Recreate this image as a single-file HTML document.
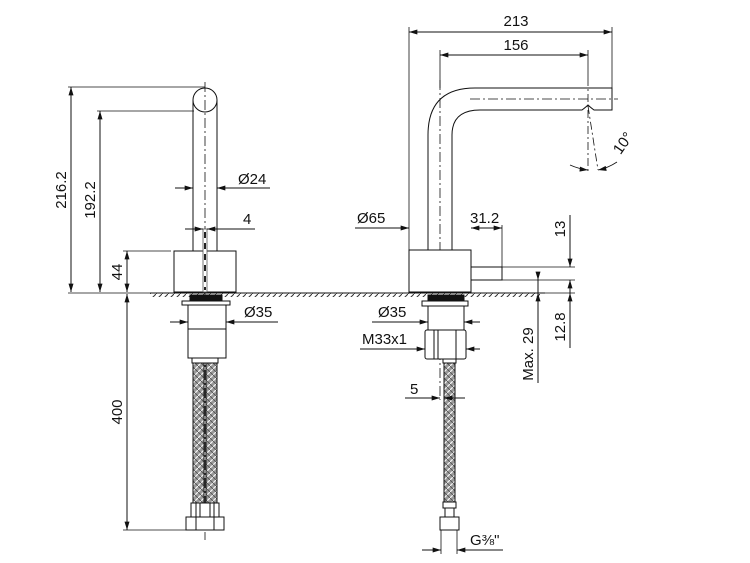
<!DOCTYPE html>
<html><head><meta charset="utf-8"><style>
html,body{margin:0;padding:0;background:#fff;}
svg{display:block;}
text{font-family:"Liberation Sans",Arial,sans-serif;font-size:15px;fill:#111;}
</style></head><body>
<svg width="750" height="563" viewBox="0 0 750 563" xmlns="http://www.w3.org/2000/svg">
<defs>
<marker id="a" viewBox="0 0 10 6" refX="10" refY="3" markerWidth="9" markerHeight="5" orient="auto-start-reverse" markerUnits="userSpaceOnUse"><path d="M0,0 L10,3 L0,6 z" fill="#111"/></marker>
<pattern id="hatch" width="6" height="6" patternUnits="userSpaceOnUse"><path d="M0,6 L6,0" stroke="#333" stroke-width="1"/></pattern>
<pattern id="braid" width="6" height="6" patternUnits="userSpaceOnUse"><rect width="6" height="6" fill="#999"/><path d="M0,6 L6,0 M-1,1 L1,-1 M5,7 L7,5" stroke="#f4f4f4" stroke-width="1.2"/><path d="M0,0 L6,6" stroke="#444" stroke-width="0.7"/></pattern>
</defs>
<g stroke="#111" stroke-width="1" fill="none">
<line x1="150" y1="293" x2="545" y2="293"/>
<rect x="150" y="293" width="390" height="4" fill="url(#hatch)" stroke="none"/>

<!-- LEFT VIEW -->
<circle cx="205" cy="100" r="12" fill="#fff"/>
<line x1="193" y1="100" x2="193" y2="251"/>
<line x1="217" y1="100" x2="217" y2="251"/>
<rect x="174" y="251" width="62" height="41" fill="#fff"/>
<line x1="205" y1="82" x2="205" y2="540" stroke-dasharray="10,3,2,3" stroke-width="0.8"/>
<rect x="203" y="229" width="4" height="63" fill="#fff" stroke="#555" stroke-width="0.8"/>
<line x1="205" y1="232" x2="205" y2="290" stroke="#222" stroke-width="2" stroke-dasharray="6,5"/>
<rect x="190" y="295" width="32" height="6" fill="#111"/>
<rect x="182" y="301" width="48" height="4" fill="#fff"/>
<rect x="188" y="305" width="38" height="53" fill="#fff"/>
<line x1="188" y1="329" x2="226" y2="329"/>
<rect x="192" y="358" width="26" height="5" fill="#fff"/>
<rect x="193" y="363" width="11" height="140" fill="url(#braid)"/>
<rect x="206" y="363" width="11" height="140" fill="url(#braid)"/>
<rect x="191" y="503" width="28" height="14" fill="#fff"/>
<line x1="196" y1="503" x2="196" y2="517"/><line x1="200" y1="503" x2="200" y2="517"/><line x1="210" y1="503" x2="210" y2="517"/><line x1="214" y1="503" x2="214" y2="517"/>
<rect x="186" y="517" width="38" height="13" fill="#fff"/>
<line x1="196" y1="517" x2="196" y2="530"/><line x1="214" y1="517" x2="214" y2="530"/>

<line x1="68" y1="87" x2="205" y2="87" stroke-width="0.8"/>
<line x1="97" y1="111" x2="194" y2="111" stroke-width="0.8"/>
<line x1="123" y1="251" x2="171" y2="251" stroke-width="0.8"/>
<line x1="68" y1="293" x2="150" y2="293" stroke-width="0.8"/>
<line x1="123" y1="530" x2="190" y2="530" stroke-width="0.8"/>
<line x1="71" y1="87" x2="71" y2="292" marker-start="url(#a)" marker-end="url(#a)"/>
<line x1="100" y1="111" x2="100" y2="292" marker-start="url(#a)" marker-end="url(#a)"/>
<line x1="127" y1="251" x2="127" y2="292" marker-start="url(#a)" marker-end="url(#a)"/>
<line x1="127" y1="294" x2="127" y2="530" marker-start="url(#a)" marker-end="url(#a)"/>
<line x1="175" y1="188" x2="193" y2="188" marker-end="url(#a)"/>
<line x1="270" y1="188" x2="217" y2="188" marker-end="url(#a)"/>
<line x1="185" y1="229" x2="203" y2="229" marker-end="url(#a)"/>
<line x1="255" y1="229" x2="207" y2="229" marker-end="url(#a)"/>
<line x1="170" y1="322" x2="188" y2="322" marker-end="url(#a)"/>
<line x1="278" y1="322" x2="226" y2="322" marker-end="url(#a)"/>

<!-- RIGHT VIEW -->
<path d="M428,250 L428,135 Q428,88 475,88 L612,88 L612,110 L594,110 Q590,107 588,105 Q586,107 582,110 L480,110 Q452,110 452,135 L452,250" fill="#fff"/>
<line x1="440" y1="80" x2="440" y2="400" stroke-dasharray="10,3,2,3" stroke-width="0.8"/>
<line x1="470" y1="99" x2="618" y2="99" stroke-dasharray="10,3,2,3" stroke-width="0.8"/>
<rect x="409" y="250" width="62" height="42" fill="#fff"/>
<rect x="471" y="267" width="31" height="13" fill="#fff"/>
<line x1="588" y1="78" x2="588" y2="172" stroke-dasharray="8,3,2,3" stroke-width="0.8"/>
<line x1="588" y1="106" x2="598" y2="170" stroke-dasharray="8,3,2,3" stroke-width="0.8"/>
<path d="M570,165 Q579,169 588,170" marker-end="url(#a)" stroke-width="0.8"/>
<path d="M617,162 Q608,168 598,170" marker-end="url(#a)" stroke-width="0.8"/>
<rect x="428" y="295" width="36" height="6" fill="#111"/>
<rect x="422" y="301" width="46" height="5" fill="#fff"/>
<rect x="428" y="306" width="36" height="24" fill="#fff"/>
<rect x="425" y="330" width="41" height="29" rx="2" fill="#fff"/>
<line x1="434" y1="330" x2="434" y2="359"/><line x1="438" y1="330" x2="438" y2="359"/><line x1="456" y1="330" x2="456" y2="359"/>
<rect x="443" y="359" width="13" height="4" fill="#fff"/>
<rect x="444" y="363" width="11" height="139" fill="url(#braid)"/>
<rect x="443" y="502" width="13" height="6" fill="#fff"/>
<rect x="445" y="508" width="9" height="9" fill="#fff"/>
<rect x="440" y="517" width="19" height="13" fill="#fff"/>

<line x1="409" y1="27" x2="409" y2="250" stroke-width="0.8"/>
<line x1="612" y1="27" x2="612" y2="88" stroke-width="0.8"/>
<line x1="440" y1="50" x2="440" y2="88" stroke-width="0.8"/>
<line x1="588" y1="50" x2="588" y2="78" stroke-width="0.8"/>
<line x1="409" y1="32" x2="612" y2="32" marker-start="url(#a)" marker-end="url(#a)"/>
<line x1="440" y1="55" x2="588" y2="55" marker-start="url(#a)" marker-end="url(#a)"/>
<line x1="355" y1="228" x2="409" y2="228" marker-end="url(#a)"/>
<line x1="471" y1="228" x2="502" y2="228" marker-start="url(#a)" marker-end="url(#a)"/>
<line x1="502" y1="225" x2="502" y2="267" stroke-width="0.8"/>
<line x1="502" y1="267" x2="575" y2="267" stroke-width="0.8"/>
<line x1="502" y1="280" x2="575" y2="280" stroke-width="0.8"/>
<line x1="530" y1="293" x2="575" y2="293" stroke-width="0.8"/>
<line x1="570" y1="215" x2="570" y2="267" marker-end="url(#a)"/>
<line x1="570" y1="280" x2="570" y2="348" marker-start="url(#a)"/>
<path d="M570,305 L570,293" marker-end="url(#a)"/>
<line x1="538" y1="273" x2="538" y2="280" marker-end="url(#a)"/>
<line x1="538" y1="280" x2="538" y2="383"/>
<path d="M538,300 L538,293" marker-end="url(#a)"/>
<line x1="372" y1="322" x2="428" y2="322" marker-end="url(#a)"/>
<line x1="480" y1="322" x2="464" y2="322" marker-end="url(#a)"/>
<line x1="360" y1="349" x2="425" y2="349" marker-end="url(#a)"/>
<line x1="480" y1="349" x2="466" y2="349" marker-end="url(#a)"/>
<line x1="405" y1="398" x2="440" y2="398" marker-end="url(#a)"/>
<line x1="465" y1="398" x2="444" y2="398" marker-end="url(#a)"/>
<line x1="441" y1="530" x2="441" y2="554" stroke-width="0.8"/>
<line x1="457" y1="530" x2="457" y2="554" stroke-width="0.8"/>
<line x1="422" y1="550" x2="441" y2="550" marker-end="url(#a)"/>
<line x1="503" y1="550" x2="457" y2="550" marker-end="url(#a)"/>
</g>
<text x="66" y="190" transform="rotate(-90 66 190)" text-anchor="middle">216.2</text>
<text x="95" y="200" transform="rotate(-90 95 200)" text-anchor="middle">192.2</text>
<text x="122" y="272" transform="rotate(-90 122 272)" text-anchor="middle">44</text>
<text x="122" y="412" transform="rotate(-90 122 412)" text-anchor="middle">400</text>
<text x="238" y="184">Ø24</text>
<text x="243" y="224">4</text>
<text x="244" y="317">Ø35</text>
<text x="516" y="26" text-anchor="middle">213</text>
<text x="516" y="50" text-anchor="middle">156</text>
<text x="357" y="223">Ø65</text>
<text x="470" y="223">31.2</text>
<text x="565" y="229" transform="rotate(-90 565 229)" text-anchor="middle">13</text>
<text x="565" y="327" transform="rotate(-90 565 327)" text-anchor="middle">12.8</text>
<text x="533" y="354" transform="rotate(-90 533 354)" text-anchor="middle">Max. 29</text>
<text x="627" y="146" transform="rotate(-55 627 146)" text-anchor="middle">10°</text>
<text x="378" y="317">Ø35</text>
<text x="362" y="344">M33x1</text>
<text x="410" y="394">5</text>
<text x="470" y="545">G⅜"</text>
</svg>
</body></html>
